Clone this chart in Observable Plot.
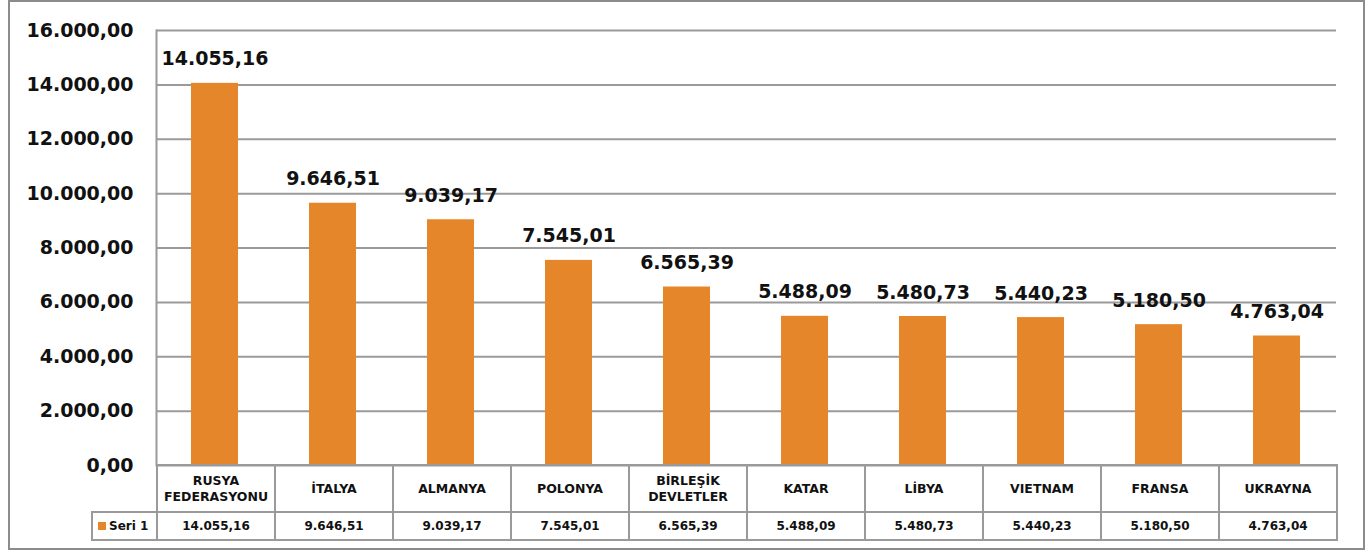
<!DOCTYPE html>
<html>
<head>
<meta charset="utf-8">
<script src="https://cdn.jsdelivr.net/npm/d3@7"></script>
<script src="https://cdn.jsdelivr.net/npm/@observablehq/plot@0.6"></script>
<style>
  body { margin: 0; background: #fff; font-family: "DejaVu Sans", sans-serif; }
  #wrap { position: relative; width: 1369px; height: 552px; overflow: hidden; }
  #frame { position: absolute; left: 8px; top: 0px; width: 1357px; height: 550px; box-sizing: border-box; border: 2px solid #8c8c8c; }
  #chart { position: absolute; left: 0; top: 0; }
  #tbl { position: absolute; left: 91px; top: 464px; border-collapse: collapse; table-layout: fixed; }
  #tbl td { border: 2px solid #9a9a9a; text-align: center; vertical-align: middle; font-weight: bold; color: #111; padding: 0; }
  #tbl tr.cats td { height: 45px; font-size: 12.5px; line-height: 16px; }
  #tbl tr.vals td { height: 26px; font-size: 12px; }
  #tbl td.corner { border-top: hidden; border-left: hidden; }
  #tbl td.leg { text-align: left; font-size: 13px; padding-left: 5px; }
  .sw { display: inline-block; width: 8px; height: 8px; background: #E6862A; margin-right: 3px; vertical-align: 0px; }
</style>
</head>
<body>
<div id="wrap">
  <div id="frame"></div>
  <div id="chart"></div>
  <table id="tbl"></table>
</div>
<script>
const categories = ["RUSYA FEDERASYONU", "İTALYA", "ALMANYA", "POLONYA", "BİRLEŞİK DEVLETLER", "KATAR", "LİBYA", "VIETNAM", "FRANSA", "UKRAYNA"];
const categoryLines = [["RUSYA", "FEDERASYONU"], ["İTALYA"], ["ALMANYA"], ["POLONYA"], ["BİRLEŞİK", "DEVLETLER"], ["KATAR"], ["LİBYA"], ["VIETNAM"], ["FRANSA"], ["UKRAYNA"]];
const values = [14055.16, 9646.51, 9039.17, 7545.01, 6565.39, 5488.09, 5480.73, 5440.23, 5180.50, 4763.04];
const yTicks = [0, 2000, 4000, 6000, 8000, 10000, 12000, 14000, 16000];
const seriesName = "Seri 1";

const tr = d3.formatLocale({decimal: ",", thousands: ".", grouping: [3], currency: ["", ""]});
const fmt = tr.format(",.2f");

const data = categories.map((c, i) => ({category: c, value: values[i]}));
const barColor = "#E6862A";
const font = "DejaVu Sans, sans-serif";

const chart = Plot.plot({
  width: 1369,
  height: 467,
  marginTop: 30,
  marginBottom: 2,
  marginLeft: 156,
  marginRight: 33,
  style: {fontFamily: font, background: "transparent", overflow: "visible"},
  x: {domain: categories, paddingInner: 0.6, paddingOuter: 0.3, axis: null},
  y: {domain: [0, 16000], axis: null},
  marks: [
    Plot.ruleY(yTicks, {stroke: "#9a9a9a", strokeWidth: 2}),
    Plot.frame({anchor: "left", stroke: "#9a9a9a", strokeWidth: 2}),
    Plot.axisY({ticks: yTicks, label: null, tickSize: 0, tickPadding: 23, tickFormat: fmt, fontSize: 19, fontWeight: "bold", fill: "#111"}),
    Plot.barY(data, {x: "category", y: "value", fill: barColor}),
    Plot.text(data, {x: "category", y: "value", text: d => fmt(d.value), dy: -24, fontSize: 19, fontWeight: "bold", fill: "#111"})
  ]
});
document.getElementById("chart").appendChild(chart);

// Data table below the chart
const tbl = document.getElementById("tbl");
const colgroup = document.createElement("colgroup");
const c0 = document.createElement("col"); c0.style.width = "65px"; colgroup.appendChild(c0);
categories.forEach(() => { const c = document.createElement("col"); c.style.width = "118px"; colgroup.appendChild(c); });
tbl.appendChild(colgroup);

const r1 = document.createElement("tr"); r1.className = "cats";
const corner = document.createElement("td"); corner.className = "corner"; r1.appendChild(corner);
categoryLines.forEach(lines => { const td = document.createElement("td"); td.innerHTML = lines.join("<br>"); r1.appendChild(td); });
tbl.appendChild(r1);

const r2 = document.createElement("tr"); r2.className = "vals";
const leg = document.createElement("td"); leg.className = "leg";
leg.innerHTML = '<span class="sw"></span>' + seriesName;
r2.appendChild(leg);
values.forEach(v => { const td = document.createElement("td"); td.textContent = fmt(v); r2.appendChild(td); });
tbl.appendChild(r2);
</script>
</body>
</html>
